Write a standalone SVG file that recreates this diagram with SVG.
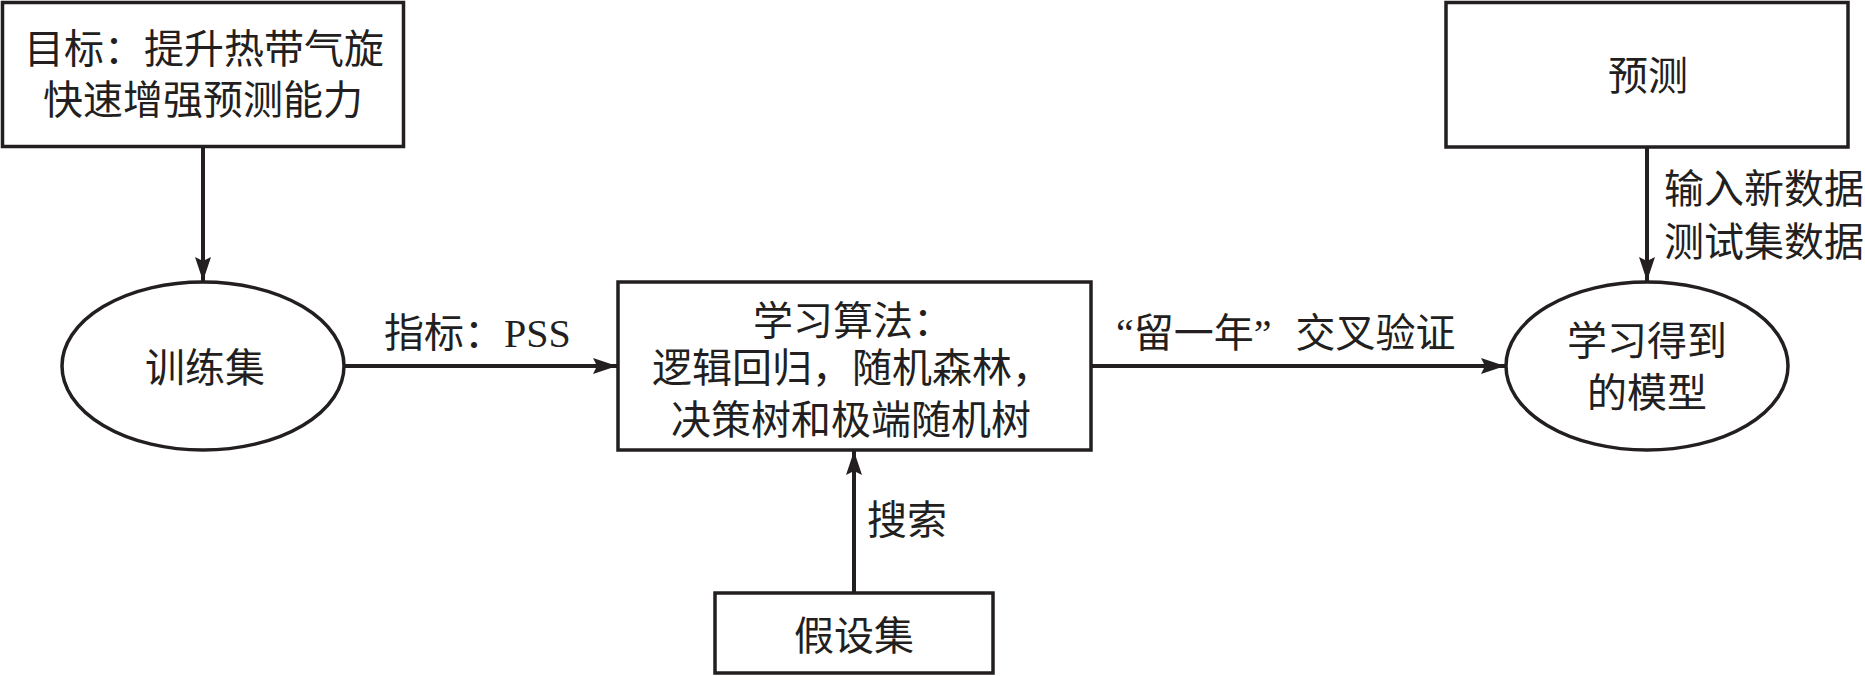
<svg xmlns="http://www.w3.org/2000/svg" width="1865" height="676" viewBox="0 0 1865 676">
<defs>
<style>
.box{fill:#fff;stroke:#231f20;stroke-width:3.5}
.edge{fill:none;stroke:#231f20;stroke-width:4}
text{font-family:"Liberation Serif","Noto Sans CJK SC",serif;font-size:40px;fill:#231f20}
.c{text-anchor:middle}
</style>
<marker id="arr" markerUnits="userSpaceOnUse" markerWidth="26" markerHeight="16" refX="24" refY="8" orient="auto">
<path d="M0,0 L24,8 L0,16 L4,8 z" fill="#231f20"/>
</marker>
</defs>
<rect width="1865" height="676" fill="#fff"/>
<g id="edges">
<line class="edge" x1="203" y1="147" x2="203" y2="281" marker-end="url(#arr)"/>
<line class="edge" x1="344" y1="366" x2="617" y2="366" marker-end="url(#arr)"/>
<line class="edge" x1="854" y1="593" x2="854" y2="451" marker-end="url(#arr)"/>
<line class="edge" x1="1091" y1="366" x2="1505" y2="366" marker-end="url(#arr)"/>
<line class="edge" x1="1647" y1="147" x2="1647" y2="281" marker-end="url(#arr)"/>
<text x="384" y="347">指标：PSS</text>
<text x="1116" y="347">“留一年”<tspan dx="24">交叉验证</tspan></text>
<text x="867" y="534">搜索</text>
<text x="1664" y="203">输入新数据</text>
<text x="1664" y="256">测试集数据</text>
</g>
<g id="goal">
<rect class="box" x="2.5" y="2.5" width="401" height="144"/>
<text class="c" x="204" y="63">目标：提升热带气旋</text>
<text class="c" x="203" y="114">快速增强预测能力</text>
</g>
<g id="train">
<ellipse class="box" cx="203" cy="366" rx="141" ry="84"/>
<text class="c" x="205" y="382">训练集</text>
</g>
<g id="algo">
<rect class="box" x="618" y="282" width="473" height="168"/>
<text class="c" x="853" y="335">学习算法：</text>
<text class="c" x="852" y="382">逻辑回归，随机森林，</text>
<text class="c" x="851" y="434">决策树和极端随机树</text>
</g>
<g id="hypo">
<rect class="box" x="715" y="593" width="278" height="80"/>
<text class="c" x="854" y="650">假设集</text>
</g>
<g id="predict">
<rect class="box" x="1446" y="2.5" width="402" height="144.5"/>
<text class="c" x="1648" y="90">预测</text>
</g>
<g id="model">
<ellipse class="box" cx="1647" cy="366" rx="141" ry="84"/>
<text class="c" x="1647" y="355">学习得到</text>
<text class="c" x="1647" y="407">的模型</text>
</g>
</svg>
